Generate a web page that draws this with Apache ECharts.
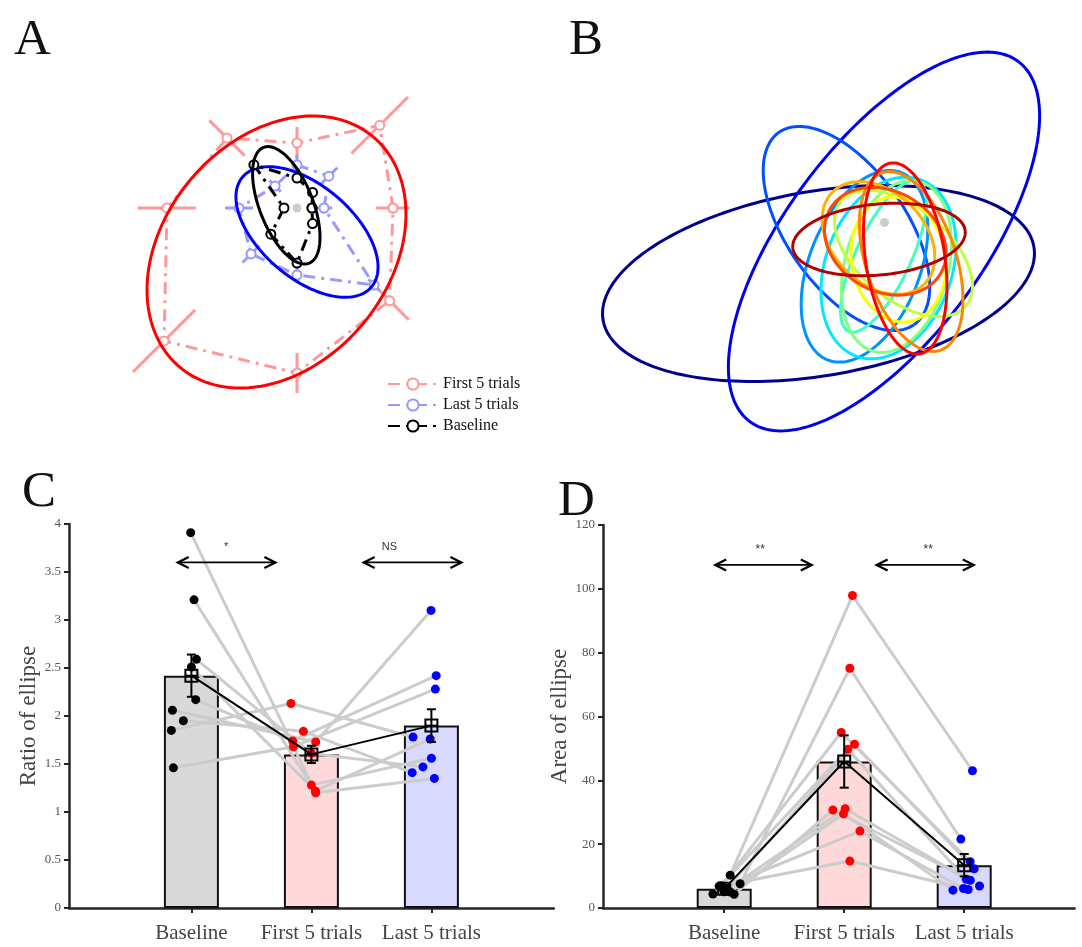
<!DOCTYPE html>
<html><head><meta charset="utf-8">
<script src="https://cdn.jsdelivr.net/npm/echarts@6/dist/echarts.min.js"></script>
<style>html,body{margin:0;padding:0;background:#fff}#c{width:1082px;height:947px}</style>
</head><body><div id="c"></div>
<script>
// ================= DATA =================
const categories = ['Baseline', 'First 5 trials', 'Last 5 trials'];

// ---- Panel A: 8 targets (deg) and reach radii / radial SD per condition ----
const targetAngles = [0, 45, 90, 135, 180, 225, 270, 315];
const firstRadius = [96, 117, 65, 99, 130, 188, 165, 131];
const firstErr    = [17, 40, 16, 25, 29, 44, 20, 27];
const lastRadius  = [27, 45, 43, 31, 58, 65, 67, 109];
const lastErr     = [8, 12, 10, 8, 14, 12, 8, 8];
const baseRadius  = [15, 22, 30, 61, 13, 37, 55, 22];
const baseErr     = [2, 2, 2, 2, 2, 2, 2, 2];
// fitted ellipses: [centerX, centerY, semiMajor, semiMinor, angleDeg]
const ellipseFirstA = [-20.5, -44, 150.4, 112.4, 50];
const ellipseLastA  = [10, -24, 84.7, 46.2, -40.5];
const ellipseBaseA  = [-10.7, 2.7, 62.2, 26.7, -68.5];

// ---- Panel B: ellipse per trial block ----
const ellipsesB = [
  [-66, -61, 218.5, 92.2, 9.65],
  [-0.5, -19, 224.6, 98.2, 53.3],
  [-38, -6, 117.5, 59.5, -54.9],
  [-20, -43.8, 100.6, 55.4, 68.6],
  [4, -45.5, 93.9, 63.2, 70],
  [-1, -33.8, 82.7, 27.5, 65],
  [12, -44, 87.9, 51.8, 75],
  [19, -31, 81.5, 45.7, -40],
  [14, -37, 62.9, 46.9, 100],
  [-6, -15.5, 65, 46, -45],
  [26.7, -39, 93.4, 45.2, 108],
  [0.8, -18.8, 64, 50, -30],
  [20.7, -36, 96.5, 39.6, 98.6],
  [-5.5, -17, 86.6, 35.5, 5.6]
];

// ---- Panel C: ratio of ellipse (per subject, jittered x) ----
const ratioBase   = [3.91, 3.21, 2.59, 2.51, 2.17, 2.06, 1.95, 1.85, 1.46];
const ratioBaseX  = [0.994, 1.022, 1.042, 1.0, 1.036, 0.842, 0.933, 0.833, 0.85];
const ratioFirst  = [1.20, 1.28, 1.61, 1.22, 1.74, 1.73, 1.84, 2.13, 1.68];
const ratioFirstX = [2.036, 2.0, 2.0, 2.033, 1.844, 2.036, 1.933, 1.83, 1.85];
const ratioLast   = [1.35, 1.56, 1.47, 1.76, 2.42, 3.10, 1.41, 1.78, 2.28];
const ratioLastX  = [3.025, 3.0, 2.93, 2.99, 3.04, 2.997, 2.84, 2.847, 3.033];
const ratioMean   = [2.42, 1.60, 1.90];
const ratioSE     = [0.22, 0.09, 0.17];
const ratioSig    = [[0.886, 1.70, 3.6, 1.29], [2.436, 3.25, 3.6, 2.65]];
const ratioSigTxt = ['*', 'NS'];

// ---- Panel D: area of ellipse ----
const areaBase   = [10.3, 7.6, 7.0, 6.1, 4.4, 4.3, 5.1, 5.0, 6.5, 6.8];
const areaBaseX  = [1.05, 1.133, 0.975, 1.022, 0.906, 1.083, 1.0, 1.05, 0.99, 0.958];
const areaFirst  = [97.9, 75.1, 55.0, 51.3, 49.7, 30.7, 31.1, 29.5, 24.1, 14.7];
const areaFirstX = [2.069, 2.047, 1.975, 2.086, 2.03, 1.906, 2.008, 1.994, 2.131, 2.047];
const areaLast   = [43.0, 21.6, 14.5, 12.3, 9.0, 8.7, 6.9, 5.6, 6.1, 5.8];
const areaLastX  = [3.069, 2.972, 3.05, 3.083, 3.017, 3.05, 3.128, 2.906, 2.994, 3.033];
const areaMean   = [6.0, 45.9, 13.4];
const areaSE     = [0.6, 8.2, 3.5];
const areaSig    = [[0.925, 1.73, 107.5, 1.30], [2.27, 3.08, 107.5, 2.70]];
const areaSigTxt = ['**', '**'];

// ================= STYLE =================
const SERIF = "'Liberation Serif','Times New Roman',serif";
const SANS = "'Liberation Sans',Arial,sans-serif";
const jet = ['#00008f', '#0000f0', '#0050ff', '#0090ff', '#00e8ff', '#40ffc0', '#80ff80', '#c0ff40', '#ffff00', '#ffb000', '#ff8400', '#ff4800', '#ff0000', '#b00000'];
const barColors = ['#d9d9d9', '#ffd9d9', '#d9d9ff'];
const PINK = '#ff9999', LBLUE = '#9999ff';
const DASHDOT = [12, 6, 3, 6];

// ================= HELPERS =================
const rad = d => d * Math.PI / 180;
const polarPts = (radii) => {
  const p = targetAngles.map((a, i) => [radii[i] * Math.cos(rad(a)), radii[i] * Math.sin(rad(a))]);
  p.push(p[0]);
  return p;
};
function ellipseRender(colorFn) {
  return function (params, api) {
    const cx = api.value(0), cy = api.value(1), a = api.value(2), b = api.value(3), th = rad(api.value(4));
    const pts = [];
    for (let k = 0; k <= 200; k++) {
      const t = k / 200 * 2 * Math.PI;
      const x = cx + a * Math.cos(t) * Math.cos(th) - b * Math.sin(t) * Math.sin(th);
      const y = cy + a * Math.cos(t) * Math.sin(th) + b * Math.sin(t) * Math.cos(th);
      pts.push(api.coord([x, y]));
    }
    return { type: 'polyline', shape: { points: pts }, style: { stroke: colorFn(params.dataIndex), lineWidth: 3, fill: null } };
  };
}
function radialErrRender(color) {
  return function (params, api) {
    const an = rad(api.value(0)), r = api.value(1), e = api.value(2);
    const c = Math.cos(an), s = Math.sin(an);
    const p1 = api.coord([(r - e) * c, (r - e) * s]), p2 = api.coord([(r + e) * c, (r + e) * s]);
    return { type: 'line', shape: { x1: p1[0], y1: p1[1], x2: p2[0], y2: p2[1] }, style: { stroke: color, lineWidth: 3 } };
  };
}
function meanRender(params, api) {
  const x = api.value(0), m = api.value(1), e = api.value(2);
  const pm = api.coord([x, m]), pt = api.coord([x, m + e]), pb = api.coord([x, m - e]);
  const cw = 4.5, h = 6;
  const st = { stroke: '#000', lineWidth: 2, fill: null };
  return { type: 'group', children: [
    { type: 'line', shape: { x1: pt[0], y1: pt[1], x2: pb[0], y2: pb[1] }, style: st },
    { type: 'line', shape: { x1: pt[0] - cw, y1: pt[1], x2: pt[0] + cw, y2: pt[1] }, style: st },
    { type: 'line', shape: { x1: pb[0] - cw, y1: pb[1], x2: pb[0] + cw, y2: pb[1] }, style: st },
    { type: 'rect', shape: { x: pm[0] - h, y: pm[1] - h, width: 2 * h, height: 2 * h }, style: st },
    { type: 'line', shape: { x1: pm[0] - h, y1: pm[1], x2: pm[0] + h, y2: pm[1] }, style: st }
  ]};
}
function arrowRender(labels, fontSize) {
  return function (params, api) {
    const p1 = api.coord([api.value(0), api.value(2)]), p2 = api.coord([api.value(1), api.value(2)]);
    const pl = api.coord([api.value(3), api.value(2)]);
    const L = 11, W = 5.5, st = { stroke: '#000', lineWidth: 2.2, fill: null };
    return { type: 'group', children: [
      { type: 'line', shape: { x1: p1[0], y1: p1[1], x2: p2[0], y2: p2[1] }, style: { stroke: '#000', lineWidth: 1.6 } },
      { type: 'polyline', shape: { points: [[p1[0] + L, p1[1] - W], [p1[0], p1[1]], [p1[0] + L, p1[1] + W]] }, style: st },
      { type: 'polyline', shape: { points: [[p2[0] - L, p2[1] - W], [p2[0], p2[1]], [p2[0] - L, p2[1] + W]] }, style: st },
      { type: 'text', style: { text: labels[params.dataIndex], x: pl[0], y: pl[1] - 15, align: 'center', verticalAlign: 'middle', fontSize: fontSize, fontFamily: SANS, fill: '#333' } }
    ]};
  };
}

// ================= BUILD =================
const series = [];
// ---- Panel A ----
series.push({ type: 'scatter', xAxisIndex: 0, yAxisIndex: 0, data: [[0, 0]], symbolSize: 9, itemStyle: { color: '#cccccc', opacity: 1 }, silent: true, z: 1 });
series.push({ type: 'custom', xAxisIndex: 0, yAxisIndex: 0, renderItem: radialErrRender(PINK), data: targetAngles.map((a, i) => [a, firstRadius[i], firstErr[i]]), z: 2, silent: true });
series.push({ type: 'line', name: 'First 5 trials', xAxisIndex: 0, yAxisIndex: 0, data: polarPts(firstRadius), symbol: 'emptyCircle', symbolSize: 9,
  lineStyle: { color: PINK, width: 3, type: DASHDOT }, itemStyle: { color: PINK, borderWidth: 2 }, z: 3, silent: true });
series.push({ type: 'custom', xAxisIndex: 0, yAxisIndex: 0, renderItem: radialErrRender(LBLUE), data: targetAngles.map((a, i) => [a, lastRadius[i], lastErr[i]]), z: 4, silent: true });
series.push({ type: 'line', name: 'Last 5 trials', xAxisIndex: 0, yAxisIndex: 0, data: polarPts(lastRadius), symbol: 'emptyCircle', symbolSize: 9,
  lineStyle: { color: LBLUE, width: 3, type: DASHDOT }, itemStyle: { color: LBLUE, borderWidth: 2 }, z: 5, silent: true });
series.push({ type: 'custom', xAxisIndex: 0, yAxisIndex: 0, renderItem: ellipseRender(() => '#ff0000'), data: [ellipseFirstA], z: 6, silent: true });
series.push({ type: 'custom', xAxisIndex: 0, yAxisIndex: 0, renderItem: ellipseRender(() => '#0000ff'), data: [ellipseLastA], z: 7, silent: true });
series.push({ type: 'custom', xAxisIndex: 0, yAxisIndex: 0, renderItem: radialErrRender('#000'), data: targetAngles.map((a, i) => [a, baseRadius[i], baseErr[i]]), z: 8, silent: true });
series.push({ type: 'line', name: 'Baseline', xAxisIndex: 0, yAxisIndex: 0, data: polarPts(baseRadius), symbol: 'emptyCircle', symbolSize: 9,
  lineStyle: { color: '#000', width: 3, type: DASHDOT }, itemStyle: { color: '#000', borderWidth: 2 }, z: 9, silent: true });
series.push({ type: 'custom', xAxisIndex: 0, yAxisIndex: 0, renderItem: ellipseRender(() => '#000000'), data: [ellipseBaseA], z: 10, silent: true });

// ---- Panel B ----
series.push({ type: 'scatter', xAxisIndex: 1, yAxisIndex: 1, data: [[0, 0]], symbolSize: 9, itemStyle: { color: '#cccccc', opacity: 1 }, silent: true, z: 1 });
series.push({ type: 'custom', xAxisIndex: 1, yAxisIndex: 1, renderItem: ellipseRender(i => jet[i]), data: ellipsesB, z: 2, silent: true });

// ---- Panels C & D ----
function statPanel(ax, base, baseX, first, firstX, last, lastX, mean, se, sig, sigTxt, sigFont) {
  series.push({ type: 'bar', xAxisIndex: ax, yAxisIndex: ax, barWidth: 55, silent: true, z: 2,
    data: mean.map((m, i) => ({ value: [i + 1, m], itemStyle: { color: barColors[i] } })),
    itemStyle: { borderColor: '#111', borderWidth: 2 } });
  base.forEach((b, i) => {
    series.push({ type: 'line', xAxisIndex: ax, yAxisIndex: ax, silent: true, z: 3, symbol: 'none',
      data: [[baseX[i], b], [firstX[i], first[i]], [lastX[i], last[i]]],
      lineStyle: { color: '#cccccc', width: 3 } });
  });
  const groups = [[base, baseX, '#000000'], [first, firstX, '#ff0000'], [last, lastX, '#0000ff']];
  groups.forEach(g => {
    series.push({ type: 'scatter', xAxisIndex: ax, yAxisIndex: ax, silent: true, z: 4, symbolSize: 9,
      data: g[0].map((v, i) => [g[1][i], v]), itemStyle: { color: g[2], opacity: 1 } });
  });
  series.push({ type: 'line', xAxisIndex: ax, yAxisIndex: ax, silent: true, z: 5, symbol: 'none',
    data: mean.map((m, i) => [i + 1, m]), lineStyle: { color: '#000', width: 2 } });
  series.push({ type: 'custom', xAxisIndex: ax, yAxisIndex: ax, silent: true, z: 6, renderItem: meanRender,
    data: mean.map((m, i) => [i + 1, m, se[i]]) });
  series.push({ type: 'custom', xAxisIndex: ax, yAxisIndex: ax, silent: true, z: 6, renderItem: arrowRender(sigTxt, sigFont),
    data: sig });
}
statPanel(2, ratioBase, ratioBaseX, ratioFirst, ratioFirstX, ratioLast, ratioLastX, ratioMean, ratioSE, ratioSig, ratioSigTxt, 11);
statPanel(3, areaBase, areaBaseX, areaFirst, areaFirstX, areaLast, areaLastX, areaMean, areaSE, areaSig, areaSigTxt, 12);

const hiddenAxis = (g, min, max) => ({ gridIndex: g, type: 'value', min: min, max: max, show: false });
const catX = (g, min, max) => ({
  gridIndex: g, type: 'value', min: min, max: max,
  axisLine: { show: true, onZero: false, lineStyle: { color: '#262626', width: 2.5 } },
  axisTick: { show: true, customValues: [1, 2, 3], length: 5, lineStyle: { color: '#262626', width: 2 } },
  axisLabel: { show: true, customValues: [1, 2, 3], formatter: v => categories[Math.round(v) - 1] || '', fontFamily: SERIF, fontSize: 21, color: '#444', margin: 15 },
  splitLine: { show: false }
});
const valY = (g, max, interval, name) => ({
  gridIndex: g, type: 'value', min: 0, max: max, interval: interval, name: name, nameLocation: 'middle', nameGap: 29,
  nameTextStyle: { fontFamily: SERIF, fontSize: 23, color: '#444' },
  axisLine: { show: true, onZero: false, lineStyle: { color: '#262626', width: 2.5 } },
  axisTick: { show: true, length: 5, inside: false, lineStyle: { color: '#262626', width: 2 } },
  axisLabel: { show: true, fontFamily: SERIF, fontSize: 13, color: '#555', margin: 8 },
  splitLine: { show: false }
});

const letter = (t, l, top) => ({ text: t, left: l, top: top, textStyle: { fontFamily: SERIF, fontSize: 51, fontWeight: 'normal', color: '#111' } });

const option = {
  animation: false,
  backgroundColor: '#fff',
  title: [letter('A', 9, 10), letter('B', 564, 10), letter('C', 17, 462), letter('D', 553, 471)],
  legend: {
    data: ['First 5 trials', 'Last 5 trials', 'Baseline'], orient: 'vertical', left: 382, top: 371,
    itemWidth: 50, itemHeight: 14, itemGap: 5, selectedMode: false,
    textStyle: { fontFamily: SERIF, fontSize: 16, color: '#111', lineHeight: 16 }
  },
  grid: [
    { left: 100, top: 100, width: 400, height: 340 },
    { left: 580, top: 20, width: 480, height: 420 },
    { left: 69, top: 524, width: 484.8, height: 384 },
    { left: 603, top: 525, width: 471.6, height: 383 }
  ],
  xAxis: [hiddenAxis(0, -197, 203), hiddenAxis(1, -304.5, 175.5), catX(2, -0.02, 4.02), catX(3, -0.01, 3.92)],
  yAxis: [hiddenAxis(0, -232, 108), hiddenAxis(1, -217.5, 202.5), valY(2, 4, 0.5, 'Ratio of ellipse'), valY(3, 120, 20, 'Area of ellipse')],
  series: series
};
const chart = echarts.init(document.getElementById('c'));
chart.setOption(option);
</script>
</body></html>
